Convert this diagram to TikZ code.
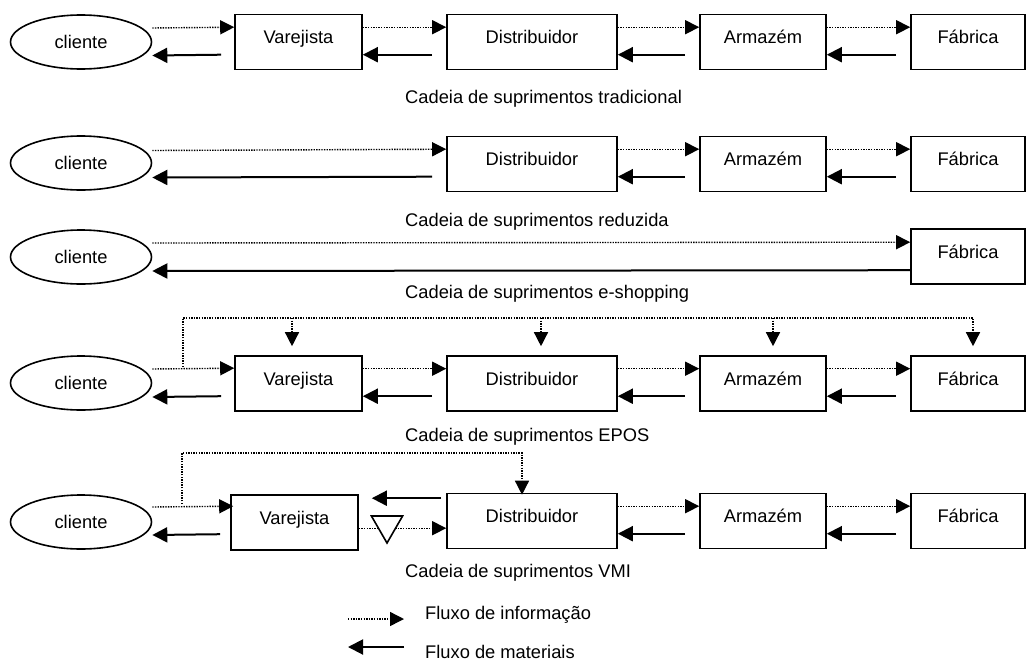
\documentclass[tikz,border=0pt]{standalone}
\usepackage{fontspec}
\setmainfont{Liberation Sans}
\usetikzlibrary{arrows.meta,shapes.geometric}
\begin{document}
\begin{tikzpicture}[x=1pt,y=-1pt,
  font=\fontsize{18.3}{22}\selectfont,
  box/.style={draw, line width=1.6pt, rectangle, minimum height=55pt, inner sep=0pt, text height=13pt, text depth=10pt},
  cli/.style={draw, ellipse, line width=1.6pt, minimum width=141pt, minimum height=54pt, inner sep=0pt},
  infoline/.style={line width=1.4pt, dash pattern=on 1.4pt off 1.2pt},
  info/.style={infoline, -{Triangle[length=14pt,width=14pt]}},
  mat/.style={line width=2pt, -{Triangle[length=15pt,width=15pt]}},
  captxt/.style={anchor=west, inner sep=0pt, text height=13pt, text depth=0pt},
  vw/.style={minimum width=127pt}, dw/.style={minimum width=170pt},
  aw/.style={minimum width=126pt}, fw/.style={minimum width=114pt}]
\fill[white] (0,0) rectangle (1027,664);
\useasboundingbox (0,0) rectangle (1027,664);

% ---------- Row 1: tradicional ----------
\node[cli] (c1) at (81,42) {cliente};
\node[box,vw] (v1) at (298.5,42) {Varejista};
\node[box,dw] (d1) at (532,42) {Distribuidor};
\node[box,aw] (a1) at (763,42) {Armazém};
\node[box,fw] (f1) at (968,42) {Fábrica};
\node[captxt] (cap1) at (405,97) {Cadeia de suprimentos tradicional};
\draw[info] ([yshift=14pt]c1.east) -- ([yshift=-13.5pt]v1.north west);
\draw[mat] ([xshift=-13pt,yshift=-41pt]v1.north west) -- ([yshift=-13.5pt]c1.east);

% ---------- Row 2: reduzida ----------
\node[cli] (c2) at (81,163) {cliente};
\node[box,dw] (d2) at (532,164) {Distribuidor};
\node[box,aw] (a2) at (763,164) {Armazém};
\node[box,fw] (f2) at (968,164) {Fábrica};
\node[captxt] (cap2) at (405,220) {Cadeia de suprimentos reduzida};
\draw[info] ([yshift=12.5pt]c2.east) -- ([yshift=-13.5pt]d2.north west);
\draw[mat] ([xshift=-14pt,yshift=-41pt]d2.north west) -- ([yshift=-14.5pt]c2.east);

% ---------- Row 3: e-shopping ----------
\node[cli] (c3) at (81,257) {cliente};
\node[box,fw] (f3) at (968,256.5) {Fábrica};
\node[captxt] (cap3) at (405,292) {Cadeia de suprimentos e-shopping};
\draw[info] ([yshift=14pt]c3.east) -- ([yshift=-14pt]f3.north west);
\draw[mat] ([yshift=-42pt]f3.north west) -- ([yshift=-14pt]c3.east);

% ---------- Row 4: EPOS ----------
\node[cli] (c4) at (81,383) {cliente};
\node[box,vw] (v4) at (298.5,383.5) {Varejista};
\node[box,dw] (d4) at (532,383.5) {Distribuidor};
\node[box,aw] (a4) at (763,383.5) {Armazém};
\node[box,fw] (f4) at (968,383.5) {Fábrica};
\node[captxt] (cap4) at (405,435) {Cadeia de suprimentos EPOS};
\draw[info] ([yshift=14pt]c4.east) -- ([yshift=-13pt]v4.north west);
\draw[mat] ([xshift=-13pt,yshift=-41pt]v4.north west) -- ([yshift=-14pt]c4.east);
\coordinate (e4) at (183,367);
\coordinate (k4) at (183,318);
\coordinate (tv4) at ([xshift=-6.5pt,yshift=9pt]v4.north);
\coordinate (td4) at ([xshift=9pt,yshift=9pt]d4.north);
\coordinate (ta4) at ([xshift=10pt,yshift=9pt]a4.north);
\coordinate (tf4) at ([xshift=5pt,yshift=9pt]f4.north);
\draw[info] (e4) -- (k4) -- (k4 -| tf4) -- (tf4);
\draw[info] (k4 -| tv4) -- (tv4);
\draw[info] (k4 -| td4) -- (td4);
\draw[info] (k4 -| ta4) -- (ta4);

% ---------- Row 5: VMI ----------
\node[cli] (c5) at (81,522) {cliente};
\node[box,vw] (v5) at (294.5,522.5) {Varejista};
\node[box,dw] (d5) at (532,521) {Distribuidor};
\node[box,aw] (a5) at (763,521) {Armazém};
\node[box,fw] (f5) at (968,521) {Fábrica};
\node[captxt] (cap5) at (405,571) {Cadeia de suprimentos VMI};
\draw[info] ([yshift=15pt]c5.east) -- ([xshift=3pt,yshift=-12pt]v5.north west);
\draw[mat] ([xshift=-10pt,yshift=-40pt]v5.north west) -- ([yshift=-13pt]c5.east);
\draw[info] ([yshift=-34pt]v5.north east) -- ([yshift=-35.5pt]d5.north west);
\node[draw, line width=1.6pt, fill=white, regular polygon, regular polygon sides=3,
      shape border rotate=180, minimum size=36pt, inner sep=0pt] (inv) at (387,525) {};
\draw[mat] ([xshift=-5pt,yshift=-5.5pt]d5.north west) -- ([xshift=13pt,yshift=-4pt]v5.north east);
\coordinate (e5) at (182,504);
\coordinate (k5) at (182,453);
\coordinate (td5) at ([xshift=-10pt,yshift=-2pt]d5.north);
\draw[info] (e5) -- (k5) -- (k5 -| td5) -- (td5);

% ---------- box-to-box connectors ----------
\foreach \a/\b in {v1/d1,d1/a1,a1/f1,d2/a2,a2/f2,v4/d4,d4/a4,a4/f4,d5/a5,a5/f5}{
  \draw[info] ([yshift=-13.5pt]\a.north east) -- ([yshift=-13.5pt]\b.north west);
  \draw[mat] ([xshift=-14pt,yshift=-41pt]\b.north west) -- ([yshift=-41pt]\a.north east);
}

% ---------- Legend ----------
\coordinate (li1) at (348,619);
\coordinate (li2) at (404,619);
\draw[info] (li1) -- (li2);
\node[captxt] (lt1) at (425,613) {Fluxo de informação};
\coordinate (lm1) at (404,647);
\coordinate (lm2) at (348,647);
\draw[mat] (lm1) -- (lm2);
\node[captxt] (lt2) at (425,652) {Fluxo de materiais};
\end{tikzpicture}
\end{document}
